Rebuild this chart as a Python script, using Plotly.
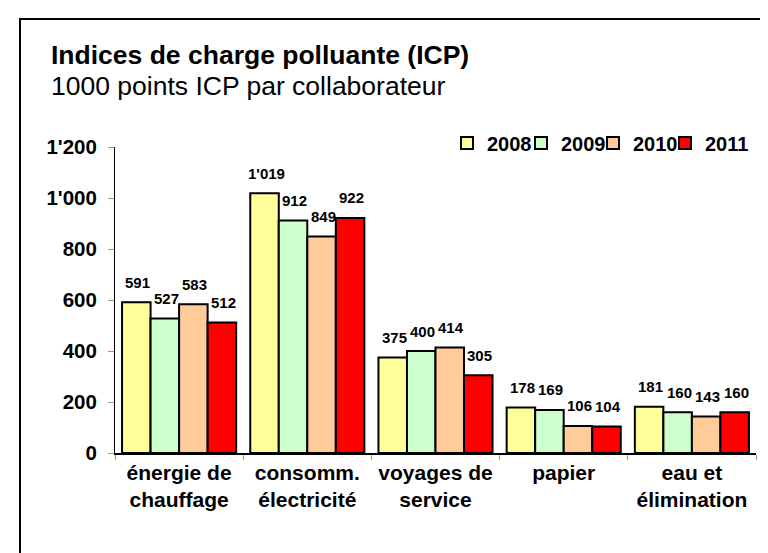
import plotly.graph_objects as go

categories = ["énergie de<br>chauffage", "consomm.<br>électricité", "voyages de<br>service", "papier", "eau et<br>élimination"]
years = ["2008", "2009", "2010", "2011"]
values_2008 = [591, 1019, 375, 178, 181]
values_2009 = [527, 912, 400, 169, 160]
values_2010 = [583, 849, 414, 106, 143]
values_2011 = [512, 922, 305, 104, 160]
series = [values_2008, values_2009, values_2010, values_2011]
colors = ["#FFFF99", "#CCFFCC", "#FFCC99", "#FF0000"]

FONT = "Arial, Liberation Sans, sans-serif"
W, H = 768, 553
L, R, T, B = 107, 20, 139, 108
BARGAP = 0.11

plot_w = W - L - R
plot_h = H - T - B
def px_x(p):
    return (p - L) / plot_w
def px_y(p):
    return (H - B - p) / plot_h

legend_ids = ["legend", "legend2", "legend3", "legend4"]
legend_left_px = [439, 513, 585, 657]

fig = go.Figure()
for name, vals, col, lid in zip(years, series, colors, legend_ids):
    fig.add_trace(go.Bar(
        x=categories, y=vals, name=name, legend=lid,
        marker=dict(color=col, line=dict(color="black", width=2)),
    ))

# data labels
bar_px = plot_w / len(categories) * (1 - BARGAP) / len(series)
annotations = []
for j, vals in enumerate(series):
    for cat, v in zip(categories, vals):
        annotations.append(dict(
            x=cat, y=v, xref="x", yref="y",
            text=f"{v:,}".replace(",", "'"),
            showarrow=False, yanchor="middle",
            xshift=(j - (len(series) - 1) / 2) * bar_px + 1.5,
            yshift=20,
            font=dict(family=FONT, size=15, color="black", weight="bold"),
        ))

annotations.append(dict(
    x=px_x(41), y=px_y(47), xref="paper", yref="paper",
    xanchor="left", yanchor="middle", showarrow=False,
    text="Indices de charge polluante (ICP)",
    font=dict(family=FONT, size=26.5, color="black", weight="bold"),
))
annotations.append(dict(
    x=px_x(41), y=px_y(78), xref="paper", yref="paper",
    xanchor="left", yanchor="middle", showarrow=False,
    text="1000 points ICP par collaborateur",
    font=dict(family=FONT, size=26.5, color="black"),
))

legend_common = dict(
    orientation="h", yanchor="middle", xanchor="left",
    font=dict(family=FONT, size=20, color="black", weight="bold"),
    bgcolor="rgba(0,0,0,0)", itemclick=False,
)
legends = {}
for lid, lx in zip(legend_ids, legend_left_px):
    legends[lid] = dict(legend_common, x=px_x(lx), y=px_y(135))

fig.update_layout(
    width=W, height=H,
    margin=dict(l=L, r=R, t=T, b=B, autoexpand=False),
    paper_bgcolor="white", plot_bgcolor="white",
    barmode="group", bargap=BARGAP, bargroupgap=0,
    separators=".'",
    font=dict(family=FONT, color="black"),
    showlegend=True,
    annotations=annotations,
    shapes=[dict(
        type="rect", xref="paper", yref="paper",
        x0=px_x(12), x1=px_x(766), y0=px_y(600), y1=px_y(11),
        line=dict(color="black", width=2), fillcolor="rgba(0,0,0,0)", layer="below",
    )],
    xaxis=dict(
        showline=True, linecolor="black", linewidth=1.5,
        ticks="outside", tickson="boundaries", ticklen=5, tickcolor="#999999",
        tickfont=dict(family=FONT, size=21, color="black", weight="bold"),
        showgrid=False, zeroline=False,
    ),
    yaxis=dict(
        range=[0, 1200], dtick=200, tick0=0,
        showline=True, linecolor="black", linewidth=1,
        ticks="outside", ticklen=6, tickcolor="#999999",
        separatethousands=True, ticklabelstandoff=7,
        tickfont=dict(family=FONT, size=20.5, color="black", weight="bold"),
        showgrid=False, zeroline=False,
    ),
    **legends,
)

fig.write_html("out.html")
